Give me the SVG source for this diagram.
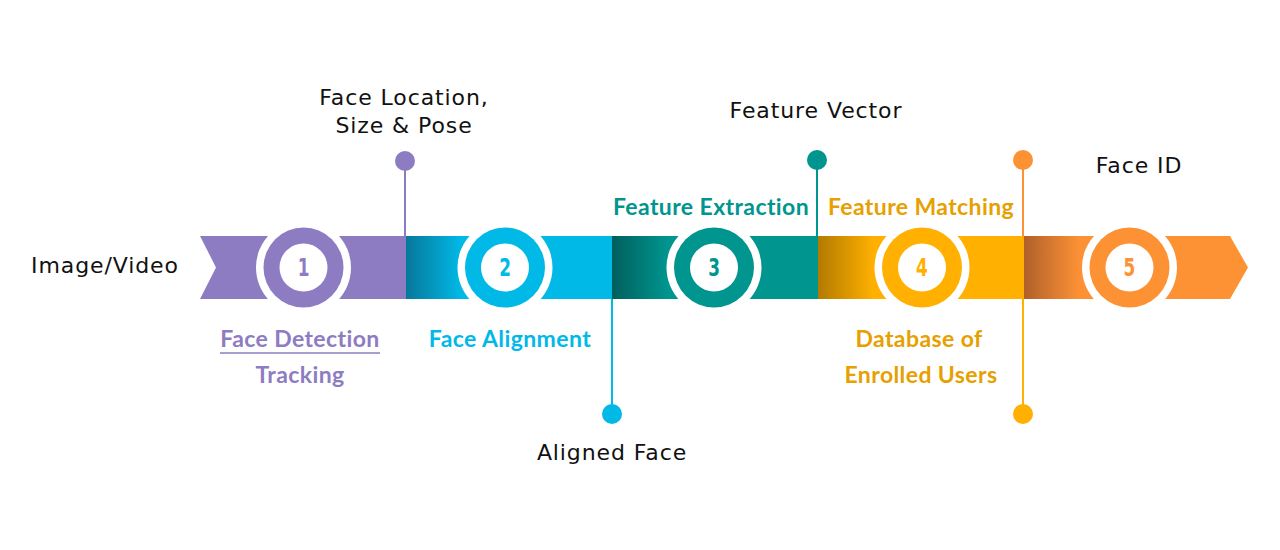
<svg xmlns="http://www.w3.org/2000/svg" width="1280" height="550" viewBox="0 0 1280 550">
<style>
.lbl{font-family:"DejaVu Sans",sans-serif;font-size:22px;letter-spacing:0.9px;fill:#111;text-anchor:middle}
.step{font-family:Lato,"Liberation Sans",sans-serif;font-weight:bold;font-size:23px;letter-spacing:0.4px;text-anchor:middle}
.num{font-family:"DejaVu Sans Condensed","DejaVu Sans",sans-serif;font-weight:bold;font-size:25px;text-anchor:middle}
.pin{stroke-width:2;fill:none}
</style>
<defs>
<linearGradient id="g2" x1="406" y1="0" x2="612" y2="0" gradientUnits="userSpaceOnUse">
<stop offset="0" stop-color="#07789a"/><stop offset="0.27" stop-color="#00b9e7"/><stop offset="1" stop-color="#00b9e7"/></linearGradient>
<linearGradient id="g3" x1="612" y1="0" x2="818" y2="0" gradientUnits="userSpaceOnUse">
<stop offset="0" stop-color="#005f5c"/><stop offset="0.27" stop-color="#00958f"/><stop offset="1" stop-color="#00958f"/></linearGradient>
<linearGradient id="g4" x1="818" y1="0" x2="1024" y2="0" gradientUnits="userSpaceOnUse">
<stop offset="0" stop-color="#b27a00"/><stop offset="0.27" stop-color="#ffb000"/><stop offset="1" stop-color="#ffb000"/></linearGradient>
<linearGradient id="g5" x1="1024" y1="0" x2="1230" y2="0" gradientUnits="userSpaceOnUse">
<stop offset="0" stop-color="#b0602a"/><stop offset="0.27" stop-color="#fd9235"/><stop offset="1" stop-color="#fd9235"/></linearGradient>
</defs>

<g id="band">
<polygon points="200,236 406,236 406,299 200,299 216,267.5" fill="#8e7cc3"/>
<rect x="406" y="236" width="206" height="63" fill="url(#g2)"/>
<rect x="612" y="236" width="206" height="63" fill="url(#g3)"/>
<rect x="818" y="236" width="206" height="63" fill="url(#g4)"/>
<polygon points="1024,236 1230,236 1248,267.5 1230,299 1024,299" fill="url(#g5)"/>
</g>

<g id="connectors">
<line class="pin" x1="405" y1="161" x2="405" y2="236" stroke="#8e7cc3"/>
<circle cx="405" cy="161" r="10" fill="#8e7cc3"/>
<line class="pin" x1="612" y1="299" x2="612" y2="414" stroke="#00b9e7"/>
<circle cx="612" cy="414" r="10" fill="#00b9e7"/>
<line class="pin" x1="817" y1="160" x2="817" y2="236" stroke="#00958f"/>
<circle cx="817" cy="160" r="10" fill="#00958f"/>
<line class="pin" x1="1023" y1="160" x2="1023" y2="236" stroke="#fd9235"/>
<circle cx="1023" cy="160" r="10" fill="#fd9235"/>
<line class="pin" x1="1023" y1="299" x2="1023" y2="414" stroke="#ffb000"/>
<circle cx="1023" cy="414" r="10" fill="#ffb000"/>
</g>

<g id="step1">
<circle cx="303.5" cy="267.5" r="47.5" fill="#fff"/>
<circle cx="303.5" cy="267.5" r="40" fill="#8e7cc3"/>
<circle cx="303.5" cy="267.5" r="24" fill="#fff"/>
<text class="num" x="303.5" y="276.5" fill="#8e7cc3" transform="translate(303.5 0) scale(0.75 1) translate(-303.5 0)">1</text>
<text class="step" x="300" y="347" fill="#8e7cc3">Face Detection</text>
<line x1="220" y1="353" x2="380" y2="353" stroke="#8e7cc3" stroke-width="1.5"/>
<text class="step" x="300" y="383" fill="#8e7cc3">Tracking</text>
</g>

<g id="step2">
<circle cx="505" cy="267.5" r="47.5" fill="#fff"/>
<circle cx="505" cy="267.5" r="40" fill="#00b9e7"/>
<circle cx="505" cy="267.5" r="24" fill="#fff"/>
<text class="num" x="505" y="276.5" fill="#00b9e7" transform="translate(505 0) scale(0.75 1) translate(-505 0)">2</text>
<text class="step" x="510" y="347" fill="#00b9e7">Face Alignment</text>
</g>

<g id="step3">
<circle cx="714" cy="267.5" r="47.5" fill="#fff"/>
<circle cx="714" cy="267.5" r="40" fill="#00958f"/>
<circle cx="714" cy="267.5" r="24" fill="#fff"/>
<text class="num" x="714" y="276.5" fill="#00958f" transform="translate(714 0) scale(0.75 1) translate(-714 0)">3</text>
<text class="step" x="711" y="215" fill="#00958f">Feature Extraction</text>
</g>

<g id="step4">
<circle cx="922" cy="267.5" r="47.5" fill="#fff"/>
<circle cx="922" cy="267.5" r="40" fill="#ffb000"/>
<circle cx="922" cy="267.5" r="24" fill="#fff"/>
<text class="num" x="922" y="276.5" fill="#ffb000" transform="translate(922 0) scale(0.75 1) translate(-922 0)">4</text>
<text class="step" x="921" y="215" fill="#e6a000">Feature Matching</text>
<text class="step" x="919" y="347" fill="#e6a000">Database of</text>
<text class="step" x="921" y="383" fill="#e6a000">Enrolled Users</text>
</g>

<g id="step5">
<circle cx="1129.5" cy="267.5" r="47.5" fill="#fff"/>
<circle cx="1129.5" cy="267.5" r="40" fill="#fd9235"/>
<circle cx="1129.5" cy="267.5" r="24" fill="#fff"/>
<text class="num" x="1129.5" y="276.5" fill="#fd9235" transform="translate(1129.5 0) scale(0.75 1) translate(-1129.5 0)">5</text>
</g>

<g id="labels">
<text class="lbl" x="105" y="273">Image/Video</text>
<text class="lbl" x="404" y="105">Face Location,</text>
<text class="lbl" x="404" y="133">Size &amp; Pose</text>
<text class="lbl" x="612" y="460">Aligned Face</text>
<text class="lbl" x="816" y="118">Feature Vector</text>
<text class="lbl" x="1139" y="173">Face ID</text>
</g>
</svg>
